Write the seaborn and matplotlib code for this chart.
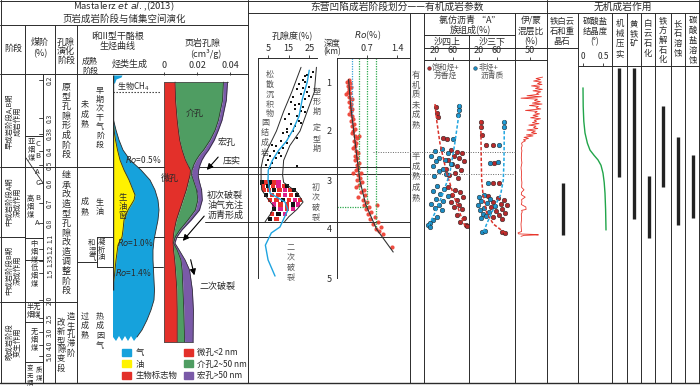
import numpy as np
import pandas as pd
import matplotlib
matplotlib.use("Agg")
import matplotlib.pyplot as plt
from matplotlib.patches import Patch
import seaborn as sns

sns.set_theme(style="white")
plt.rcParams['font.family'] = ['Noto Sans CJK SC', 'DejaVu Sans']
plt.rcParams['axes.unicode_minus'] = False

# ---------------- values ----------------
# left: hydrocarbon generation (schematic, rows of the evolution column)
gas_row = [118, 130, 140, 150, 160, 170, 180, 190, 200, 210, 220, 230, 240, 250, 260, 270, 280, 290, 300, 310, 320, 330, 337]
gas_w = [0, 3, 6, 10, 17, 28, 37, 42, 45, 46, 45, 43, 41, 40, 40, 40.5, 41, 41.5, 41, 38, 34, 29, 24]
gas_tear_row = [341, 336, 341, 336, 341, 336, 341, 337]
gas_tear_w = [21, 18, 15, 12, 9, 6, 3, 0]
oil_row = [120, 130, 140, 150, 160, 170, 180, 190, 195, 200, 210, 220, 230, 237, 245, 260, 275, 285]
oil_w = [0, 1, 2.5, 4.5, 7, 11, 16, 20, 22, 21, 15, 11, 10, 9, 5, 3, 1.5, 0]
bio_row = [75, 77, 79, 83]
bio_w = [9, 8, 3, 1.5]

# left: shale pore volume (cm3/g), cumulative
pore_row = [82, 100, 120, 130, 140, 150, 155, 160, 165, 170, 175, 180, 190, 200, 210, 220, 230, 237, 243, 250, 260, 270, 290, 310, 342]
pore_micro = [.0067, .0070, .0080, .0087, .0095, .0110, .0120, .0130, .0145, .0160, .0158, .0150, .0135, .0115, .0095, .0075,
              .0062, .0056, .0055, .0058, .0065, .0070, .0078, .0080, .0080]
pore_meso = [.0360, .0355, .0330, .0310, .0280, .0240, .0215, .0195, .0180, .0170, .0168, .0178, .0198, .0205, .0190, .0145,
             .0095, .0068, .0058, .0080, .0103, .0110, .0115, .0120, .0125]
pore_macro = [.0385, .0378, .0352, .0330, .0305, .0270, .0248, .0230, .0218, .0210, .0207, .0212, .0228, .0232, .0215, .0165,
              .0108, .0078, .0066, .0092, .0128, .0155, .0172, .0178, .0176]

# porosity (%) vs depth (km)
por_depth = [0.8, 0.85, 0.9, 0.95, 1.0, 1.05, 1.1, 1.15, 1.2, 1.25, 1.3, 1.35, 1.4, 1.45, 1.5, 1.55, 1.6, 1.65, 1.7, 1.75,
             1.8, 1.85, 1.9, 1.95, 2.0, 2.05, 2.1, 2.15, 2.2, 2.25, 2.3, 2.35, 2.4, 2.45, 2.5, 2.55, 2.6, 2.65, 2.7, 2.75, 2.72,
             0.88, 1.12, 1.28, 1.47, 1.62, 1.83, 2.02, 2.28, 2.52]
por_val = [27, 24, 26, 22, 23, 20, 25, 19, 24, 21, 17, 23, 16, 20, 22, 18, 21, 15, 19, 13,
           20, 16, 18, 14, 17, 12, 15, 19, 11, 14, 9, 12, 8, 10, 6, 9, 5, 7, 4, 6, 19,
           23, 22, 25, 18, 23, 21, 14, 7, 11]
por_trend_depth = [0.76, 1.0, 1.37, 1.7, 1.98, 2.2, 2.4, 2.6, 2.8, 3.0, 3.27, 3.45, 3.61, 3.96, 4.08, 4.33, 4.63, 4.96]
por_trend_val = [25, 24, 21.5, 20, 17, 14, 10, 7, 5, 4.9, 5.9, 13.2, 14.6, 10.7, 6.5, 3.6, 4.9, 8.3]
env_left_depth = [0.7, 1.2, 1.6, 2.0, 2.3, 2.55, 2.75, 3.0, 3.2, 3.4, 3.55, 3.7, 3.85]
env_left_val = [21, 16.5, 12.5, 9, 5.5, 2.5, 1.5, 1.5, 1.8, 5, 8, 6, 3.5]
env_right_depth = [0.7, 1.2, 1.6, 2.0, 2.3, 2.6, 2.9, 3.05, 3.25, 3.45, 3.6, 3.75, 3.85]
env_right_val = [28.5, 27.5, 24, 20.5, 15.5, 12.5, 12, 12.5, 19, 22, 19, 15, 13]
lobe_depth = [3.05, 3.05, 3.05, 3.05, 3.05, 3.12, 3.12, 3.12, 3.12, 3.12, 3.12, 3.2, 3.2, 3.2, 3.2, 3.2, 3.2, 3.2,
              3.3, 3.3, 3.3, 3.3, 3.3, 3.3, 3.4, 3.4, 3.4, 3.4, 3.4, 3.4, 3.5, 3.5, 3.5, 3.5, 3.5,
              3.6, 3.6, 3.6, 3.6, 3.7, 3.7, 3.7, 3.8, 3.8]
lobe_por = [2, 4, 6, 8, 10, 2.5, 5, 7.5, 10, 12.5, 14, 3, 5.5, 8, 10.5, 13, 15.5, 17.5,
            4, 7, 10, 13, 16, 19, 6, 9, 12, 15, 18, 20.5, 8, 11, 14, 17, 19.5,
            8, 11, 14, 17, 7, 10, 13, 6, 9]
lobe_kind = ['k', 'r', 'k', 'r', 'm', 'r', 'k', 'r', 'm', 'r', 'k', 'r', 'r', 'k', 'r', 'm', 'r', 'k',
             'k', 'r', 'r', 'm', 'r', 'k', 'r', 'r', 'k', 'r', 'm', 'r', 'm', 'r', 'r', 'k', 'm',
             'k', 'm', 'r', 'm', 'r', 'k', 'm', 'k', 'r']

# vitrinite reflectance Ro (%) vs depth (km)
ro_depth = [0.95, 1.0, 1.02, 1.08, 1.1, 1.15, 1.2, 1.22, 1.3, 1.35, 1.4, 1.45, 1.5, 1.55, 1.6, 1.65, 1.7, 1.75, 1.8, 1.85,
            1.9, 1.95, 2.0, 2.05, 2.1, 2.15, 2.2, 2.25, 2.3, 2.35, 2.4, 2.45, 2.5, 2.55, 2.6, 2.65, 2.7, 2.75, 2.8, 2.85,
            2.9, 2.95, 3.0, 3.05, 3.1, 3.15, 3.2, 3.25, 3.3, 3.35, 3.4, 3.45, 3.5, 3.5, 3.55, 3.6, 3.65, 3.7, 3.75, 3.8,
            3.85, 3.9, 3.95, 4.0, 4.05, 4.1, 4.37, 2.1, 1.25, 2.85]
ro_val = [0.27, 0.24, 0.30, 0.26, 0.33, 0.28, 0.25, 0.31, 0.29, 0.34, 0.27, 0.32, 0.30, 0.36, 0.33, 0.29, 0.35, 0.38, 0.33, 0.40,
          0.36, 0.42, 0.38, 0.35, 0.41, 0.47, 0.39, 0.44, 0.41, 0.37, 0.45, 0.50, 0.43, 0.47, 0.41, 0.52, 0.46, 0.50, 0.44, 0.55,
          0.49, 0.53, 0.47, 0.58, 0.52, 0.45, 0.62, 0.55, 0.66, 0.50, 0.60, 0.70, 0.64, 0.93, 0.75, 0.68, 0.80, 0.72, 0.88, 0.78,
          0.95, 0.85, 1.02, 0.90, 0.98, 1.07, 1.28, 0.52, 0.21, 0.38]
ro_trend_depth = [0.95, 1.5, 2.0, 2.5, 3.0, 3.5, 4.0, 4.47]
ro_trend_val = [0.27, 0.32, 0.39, 0.46, 0.53, 0.67, 0.92, 1.31]
ro_ref_val = [0.35, 0.51, 0.70, 0.91]
ro_ref_bottom = [1.85, 3.2, 3.55, 3.95]
ro_ref_color = ['#3aa0d8', '#2fa84f', '#2fa84f', '#2fa84f']

# chloroform bitumen "A" group composition (%)
s4_sat_depth = [1.51, 1.63, 1.72, 2.15, 2.17, 2.38, 2.42, 2.45, 2.5, 2.55, 2.6, 2.62, 2.68, 2.72, 2.78, 2.8, 2.85, 2.9, 2.95,
                3.15, 3.2, 3.25, 3.3, 3.35, 3.4, 3.45, 3.5, 3.55, 3.6, 3.72, 3.78, 3.85, 3.92, 3.94]
s4_sat_val = [22, 24, 26, 38, 47, 55, 68, 80, 62, 74, 48, 85, 58, 70, 44, 78, 64, 52, 72,
              50, 64, 75, 58, 82, 68, 55, 74, 62, 80, 70, 84, 76, 88, 92]
s4_non_depth = [1.49, 1.58, 1.68, 2.17, 2.36, 2.4, 2.45, 2.5, 2.55, 2.6, 2.62, 2.68, 2.72, 2.78, 2.82, 2.88, 2.92,
                3.12, 3.18, 3.22, 3.28, 3.32, 3.38, 3.42, 3.48, 3.52, 3.58, 3.62, 3.75, 3.82, 3.88, 3.92, 3.95]
s4_non_val = [74, 73, 72, 60, 35, 20, 48, 12, 30, 42, 22, 55, 16, 38, 28, 45, 18,
              25, 40, 15, 32, 48, 22, 38, 12, 30, 20, 35, 24, 15, 8, 4, 10]
s3_sat_depth = [1.82, 1.92, 2.08, 2.29, 2.29, 2.65, 3.07, 3.07, 3.32, 3.36, 3.4, 3.44, 3.48, 3.52, 3.56, 3.6, 3.64, 3.68,
                3.72, 3.76, 3.8, 4.06, 4.08]
s3_sat_val = [24, 25, 27, 35, 52, 54, 51, 64, 40, 62, 75, 52, 68, 82, 46, 72, 58, 78, 64, 50, 70, 70, 78]
s3_non_depth = [1.82, 1.92, 2.29, 2.65, 2.63, 3.07, 3.3, 3.34, 3.38, 3.42, 3.46, 3.5, 3.54, 3.58, 3.62, 3.66, 3.7, 3.74,
                3.78, 4.06, 4.04]
s3_non_val = [76, 75, 64, 45, 62, 40, 30, 20, 45, 25, 38, 18, 55, 32, 22, 42, 28, 36, 24, 27, 33]
s4_sat_fit_depth = [1.45, 1.8, 2.25, 2.86, 3.27, 3.67, 3.95]
s4_sat_fit_val = [20, 24, 31, 46, 60, 75, 87]
s4_non_fit_depth = [1.45, 1.8, 2.25, 2.86, 3.27, 3.67, 3.95]
s4_non_fit_val = [75, 71, 64, 53, 38, 20, 5]
s3_sat_fit_depth = [1.78, 2.2, 2.6, 3.0, 3.3, 3.67, 3.9, 4.08]
s3_sat_fit_val = [24, 24.5, 25, 26, 29, 37, 52, 78]
s3_non_fit_depth = [1.78, 2.2, 2.6, 3.0, 3.3, 3.67, 3.9, 4.08]
s3_non_fit_val = [76, 76, 75.5, 74, 68, 48, 37, 29]

# illite / smectite mixed layer ratio (%)
is_depth = [0.90, 0.93, 0.95, 0.98, 1.00, 1.03, 1.05, 1.08, 1.10, 1.13, 1.15, 1.18, 1.20, 1.23, 1.25, 1.28, 1.30, 1.33,
            1.35, 1.38, 1.40, 1.43, 1.45, 1.48, 1.50, 1.53, 1.55, 1.58, 1.60, 1.63, 1.65, 1.68, 1.70, 1.73, 1.75, 1.78,
            1.80, 1.83, 1.85, 1.88, 1.90, 1.93, 1.95, 1.98, 2.00, 2.03, 2.05, 2.08, 2.10, 2.13, 2.15, 2.18, 2.20, 2.23,
            2.25, 2.30, 2.35, 2.40, 2.45, 2.55, 2.65, 2.75, 2.85, 2.95, 3.05, 3.15, 3.20, 3.25, 3.30, 3.35, 3.40, 3.45,
            3.50, 3.55, 3.60, 3.62, 3.65, 3.70, 3.80, 3.90, 4.00, 4.05, 4.08, 4.10, 4.11, 4.12, 4.13, 4.15]
is_val = [92, 70, 85, 62, 88, 75, 90, 55, 82, 68, 91, 60, 86, 72, 80, 40, 88, 20, 75, 65, 84, 58, 90, 48, 78, 70, 86,
          35, 74, 66, 82, 60, 77, 52, 85, 64, 72, 58, 80, 46, 70, 62, 76, 40, 68, 55, 72, 38, 60, 30, 45, 28, 35, 25,
          22, 24, 21, 23, 22, 21, 23, 20, 22, 21, 23, 22, 30, 22, 21, 34, 22, 23, 21, 36, 37, 22, 24, 21, 22, 20, 21,
          22, 10, 12, 60, 78, 30, 20]

# carbonate cement crystallinity (deg)
carb_depth = [1.12, 1.5, 1.8, 2.04, 2.25, 2.39, 2.5, 2.59, 2.7, 2.86, 3.05, 3.27, 3.6, 4.02]
carb_val = [0.0, 0.005, 0.02, 0.05, 0.11, 0.175, 0.28, 0.375, 0.45, 0.5, 0.53, 0.55, 0.565, 0.575]

# inorganic diagenesis ranges (km)
proc_names = ['机械压实', '黄铁矿', '白云石化', '铁方解石化', '长石溶蚀', '碳酸盐溶蚀']
proc_top = [0.71, 0.71, 2.92, 1.49, 2.12, 2.49]
proc_bot = [2.94, 3.80, 4.18, 3.14, 3.92, 3.78]
fedol_top = [3.06]
fedol_bot = [4.12]

GAS, OIL = '#16a2dc', '#fff200'
RED, GREEN, PURPLE = '#e3302a', '#4f9d62', '#7a5aa8'
INK = '#2b2b2b'
GREY = '#555555'

# ---------------- figure ----------------
W, H = 700, 388
fig = plt.figure(figsize=(7, 3.88), dpi=100)
base = fig.add_axes([0, 0, 1, 1])
base.set_xlim(0, W)
base.set_ylim(H, 0)
base.axis('off')


def panel(x0, x1, y0, y1):
    a = fig.add_axes([x0 / W, 1 - y1 / H, (x1 - x0) / W, (y1 - y0) / H])
    a.patch.set_alpha(0)
    for s in a.spines.values():
        s.set_visible(False)
    a.set_xticks([])
    a.set_yticks([])
    a.set_xlabel('')
    a.set_ylabel('')
    return a


def depth_lim(y0, y1):
    # depth scale of the middle/right part: 1 km = 49 px, 0 km at y=33
    return ((y1 - 33) / 49, (y0 - 33) / 49)


def hl(y, x0, x1, **kw):
    base.plot([x0, x1], [y, y], color=kw.pop('color', INK), lw=kw.pop('lw', 0.7), **kw)


def vl(x, y0, y1, **kw):
    base.plot([x, x], [y0, y1], color=kw.pop('color', INK), lw=kw.pop('lw', 0.7), **kw)


def vtext(x, y, s, size=6, color=INK, ls=1.12, **kw):
    base.text(x, y, "\n".join(s), ha='center', va='top', fontsize=size, linespacing=ls, color=color, **kw)


def txt(x, y, s, size=6, color=INK, **kw):
    base.text(x, y, s, ha=kw.pop('ha', 'center'), va=kw.pop('va', 'center'), fontsize=size, color=color, **kw)


# ---- table frame ----
hl(0.6, 0, 700)
hl(383, 0, 700, lw=1.0)
vl(0.6, 0, 383)
vl(699.4, 0, 383)
hl(25, 0, 248)
hl(74, 0, 248)
hl(13, 248, 700)
for x in [25, 55, 77]:
    vl(x, 25, 383)
vl(248, 0, 383)
vl(547, 0, 383)
for x in [410, 424, 515, 578, 612, 627, 641, 655, 671, 685]:
    vl(x, 13, 383)
vl(469, 35, 383)
hl(35, 424, 515)
hl(48, 424, 578)
hl(60, 424, 547)
hl(66, 578, 700)

# left-panel row boundaries
hl(167, 0, 410)
hl(237, 0, 25)
hl(302, 0, 77)
hl(174, 192, 410)
hl(222, 205, 410)
hl(237, 97, 410)
hl(267, 97, 163)
hl(262, 77, 97)
vl(97, 237, 267)
hl(92, 113, 160, ls=(0, (1.2, 1.5)), lw=0.8)
# coal rank column
vl(43, 74, 383)
hl(136, 25, 43)
base.plot([26, 43], [158, 183], color=INK, lw=0.6)
for y in [238, 260, 322, 362]:
    hl(y, 25, 43)
coal_tick_lab = ['0.2', '0.3', '0.38', '0.4', '0.5', '0.6', '0.7', '0.8', '1.1', '1.2', '1.35', '1.5', '2.0', '2.5', '3.0', '4.0', '5.0']
coal_tick_row = [80, 118, 134, 151, 165, 183, 203, 223, 238, 249, 261, 273, 300, 318, 332, 345, 356]
for lab, y in zip(coal_tick_lab, coal_tick_row):
    base.plot([39, 43], [y, y], color=INK, lw=0.6)
    txt(50, y, lab, size=4.8, rotation=90)

# maturity dotted lines (middle)
hl(152, 373, 515, ls=(0, (1, 1.5)), lw=0.7, color='#666666')
hl(174, 410, 515, ls=(0, (1, 1.5)), lw=0.7, color='#666666')

# ---- titles and headers ----
txt(124, 6.5, r'Mastalerz $\it{et\ al.}$,(2013)', size=6.8)
txt(124, 19, '页岩成岩阶段与储集空间演化', size=6.8)
txt(397, 6.5, '东营凹陷成岩阶段划分——有机成岩参数', size=7)
txt(623, 6.5, '无机成岩作用', size=7)
txt(13, 48, '阶段', size=6.5)
txt(40, 42, '煤阶', size=6.5)
txt(40, 54, '(%)', size=6.5)
vtext(66, 38, ['孔隙', '演化', '阶段'], size=6.5, ls=1.0)
txt(118, 36, 'I和II型干酪根', size=6.5)
txt(118, 46, '生烃曲线', size=6.5)
vtext(90, 57, ['成熟', '阶段'], size=5.8, ls=1.0)
txt(130, 64, '烃类生成', size=6.5)
txt(203, 43, '页岩孔隙', size=6.5)
txt(206, 54, '(cm³/g)', size=6.5)
txt(292, 35, '孔隙度(%)', size=6.5)
txt(368, 35, r'$Ro$(%)', size=6.5)
txt(332, 43, '深度', size=6)
txt(332, 52, '(km)', size=6)
txt(470, 20, '氯仿沥青 “A”', size=6.5)
txt(470, 29, '族组成(%)', size=6.5)
txt(447, 42, '沙四上', size=6.5)
txt(492, 42, '沙三下', size=6.5)
txt(531, 20, '伊/蒙', size=6.3)
txt(531, 31, '混层比', size=6.3)
txt(531, 42, '(%)', size=6.3)
vtext(562, 17, ['铁白云', '石和重', '晶石'], size=6)
vtext(595, 17, ['碳酸盐', '结晶度', '(°)'], size=6)
for name, x in zip(proc_names, [619.5, 634, 648, 663, 678, 692.5]):
    vtext(x, 16 if len(name) == 5 else 19, name, size=6)

# stage column
txt(9, 121, '早成岩阶段A,B期', size=5.3, rotation=90)
txt(18, 121, '成岩作用', size=5.3, rotation=90)
txt(9, 202, '中成岩阶段A期', size=5.3, rotation=90)
txt(18, 202, '深成作用', size=5.3, rotation=90)
txt(9, 270, '中成岩阶段B期', size=5.3, rotation=90)
txt(18, 270, '深成作用', size=5.3, rotation=90)
txt(9, 342, '晚成岩阶段', size=5.3, rotation=90)
txt(18, 342, '变生作用', size=5.3, rotation=90)
# coal names
vtext(31, 138, '亚烟煤', size=5.2, ls=1.0)
for s, y in [('C', 144), ('B', 156), ('A', 172), ('C', 183), ('B', 198), ('A', 223)]:
    txt(37.5, y, s, size=5.5)
vtext(30, 195, '高烟煤', size=5.2, ls=1.0)
vtext(34, 240, '中烟煤', size=5.2, ls=1.0)
vtext(34, 264, '低烟煤', size=5.2, ls=1.0)
vtext(34, 303, ['半无', '烟煤'], size=5.2, ls=1.0)
vtext(34, 328, '无烟煤', size=5.2, ls=1.0)
vtext(30, 364, '变无烟', size=4.6, ls=0.95)
vtext(39, 366, '质煤', size=4.6, ls=0.95)
# pore evolution stages
vtext(66, 83, '原型孔隙形成阶段', size=6.5, ls=1.08)
vtext(66, 171, '继承改造型孔隙改造调整阶段', size=6.5, ls=1.08)
vtext(61, 318, '改新型隙变段', size=6, ls=1.02)
vtext(71, 312, '造生孔滞阶', size=6, ls=1.02)
# maturity stages
vtext(85, 100, '未成熟', size=5.8)
vtext(100, 86, '早期次干气阶段', size=5.8, ls=1.0)
vtext(85, 197, '成熟', size=5.8)
vtext(100, 197, '生油', size=5.8)
vtext(92, 239, '和湿气', size=5.3, ls=0.95)
vtext(101, 238, '凝析油', size=5.3, ls=0.95)
vtext(85, 311, '过成熟', size=5.8)
vtext(100, 311, '热成因气', size=5.8)

# ---- left: hydrocarbon generation ----
hc = panel(113, 163, 75, 383)
hc.set_xlim(0, 50)
hc.set_ylim(383, 75)
hc.fill([0] + gas_w + gas_tear_w, [gas_row[0]] + gas_row + gas_tear_row, color=GAS, lw=0)
hc.plot(gas_w, gas_row, color=INK, lw=0.6)
hc.fill_betweenx(oil_row, 0, oil_w, color=OIL, lw=0)
hc.plot(oil_w, oil_row, color=INK, lw=0.6)
hc.fill_betweenx(bio_row, 0, bio_w, color=GAS, lw=0)
hc.vlines(0, 75, 290, color=INK, lw=1.0)
hc.text(20, 86, '生物CH$_4$', fontsize=5.8, ha='center', va='center', color=INK)
hc.text(12, 160, r'$Ro$=0.5%', fontsize=6, ha='left', va='center', color=INK)
hc.text(4, 243, r'$Ro$=1.0%', fontsize=6, ha='left', va='center', color=INK)
hc.text(2, 273, r'$Ro$=1.4%', fontsize=6, ha='left', va='center', color=INK)
hc.text(10, 192, '生\n油\n窗', fontsize=6, ha='center', va='top', linespacing=1.1, color=INK)

# ---- left: shale pore volume ----
pp = panel(160, 248, 75, 383)
pp.set_xlim((160 - 164) / 1650, (248 - 164) / 1650)
pp.set_ylim(383, 75)
pp.fill_betweenx(pore_row, 0, pore_micro, color=RED, lw=0)
pp.fill_betweenx(pore_row, pore_micro, pore_meso, color=GREEN, lw=0)
pp.fill_betweenx(pore_row, pore_meso, pore_macro, color=PURPLE, lw=0)
for edge in [pore_micro, pore_meso, pore_macro]:
    pp.plot(edge, pore_row, color=INK, lw=0.5)
pp.plot([0, pore_macro[0]], [pore_row[0], pore_row[0]], color=INK, lw=0.5)
pp.plot([0, 0], [pore_row[0], pore_row[-1]], color=INK, lw=0.5)
pp.plot([0, pore_macro[-1]], [pore_row[-1], pore_row[-1]], color=INK, lw=0.5)
pp.xaxis.tick_top()
pp.set_xticks([0, 0.02, 0.04])
pp.set_xticklabels(['0', '0.02', '0.04'])
pp.tick_params(axis='x', length=2.5, width=0.6, labelsize=6.5, pad=1, direction='out', colors=INK)
pp.text(0.0185, 113, '介孔', fontsize=6.5, ha='center', va='center', color=INK)
pp.text(0.0038, 178, '微孔', fontsize=6.5, ha='center', va='center', color=INK)
pp.text(0.0380, 142, '宏孔', fontsize=6.5, ha='center', va='center', color=INK)

arrow = dict(arrowstyle='-|>', color='black', lw=0.8, mutation_scale=9)
base.annotate('', xy=(205, 172), xytext=(220, 155), arrowprops=arrow)
base.annotate('', xy=(201, 199), xytext=(197, 180), arrowprops=arrow)
base.annotate('', xy=(181, 243), xytext=(206, 214), arrowprops=arrow)
base.annotate('', xy=(195, 278), xytext=(190, 257), arrowprops=arrow)
txt(232, 162, '压实', size=6.5)
txt(225, 195, '初次破裂', size=6.5)
txt(226, 205, '油气充注', size=6.5)
txt(226, 215, '沥青形成', size=6.5)
txt(217, 286, '二次破裂', size=6.5)

fig.legend(handles=[Patch(color=GAS, label='气'), Patch(color=OIL, label='油'), Patch(color=RED, label='生物标志物'),
                    Patch(color=RED, label='微孔<2 nm'), Patch(color=GREEN, label='介孔2~50 nm'),
                    Patch(color=PURPLE, label='宏孔>50 nm')],
           ncol=2, loc='upper left', bbox_to_anchor=(122 / W, 1 - 348 / H), frameon=False, fontsize=6,
           handlelength=1.1, handleheight=0.9, handletextpad=0.5, labelspacing=0.3, columnspacing=0.8,
           borderpad=0, borderaxespad=0)

# ---- middle: porosity ----
po = panel(258, 320, 58, 383)
po.set_xlim(0, 62 / 2.05)
po.set_ylim(*depth_lim(58, 383))
po.spines['left'].set_visible(True)
po.spines['left'].set_bounds(depth_lim(58, 383)[1], 5)
po.spines['top'].set_visible(True)
po.spines['top'].set_bounds(0, 29)
for s in ['left', 'top']:
    po.spines[s].set_color(INK)
    po.spines[s].set_linewidth(0.7)
po.xaxis.tick_top()
po.set_xticks([5, 15, 25])
po.set_yticks([1, 1.5, 2, 2.5, 3, 3.5, 4, 4.5, 5])
po.set_yticklabels([])
po.tick_params(axis='x', length=2.5, width=0.6, labelsize=6.5, pad=1, colors=INK)
po.tick_params(axis='y', length=2, width=0.6, direction='in', colors=INK)
sns.lineplot(x=env_left_val, y=env_left_depth, sort=False, estimator=None, color=INK, lw=0.7, ax=po)
sns.lineplot(x=env_right_val, y=env_right_depth, sort=False, estimator=None, color=INK, lw=0.7, ax=po)
lobe = pd.DataFrame({'d': lobe_depth, 'p': lobe_por, 'k': lobe_kind})
sns.scatterplot(data=lobe, x='p', y='d', hue='k', palette={'k': '#111111', 'r': '#e8312a', 'm': '#e0208a'},
                marker='s', s=9, linewidth=0, legend=False, ax=po)
sns.scatterplot(x=por_val, y=por_depth, color='#111111', marker='s', s=3, linewidth=0, ax=po)
sns.lineplot(x=por_trend_val, y=por_trend_depth, sort=False, estimator=None, color='#1fa4e0', lw=1.0, ax=po)
po.set_xlabel('')
po.set_ylabel('')
vtext(270, 70, '松散沉积物', size=5.8, color=GREY)
vtext(265, 118, '固结成岩', size=5.8, color=GREY)
vtext(317, 87, '塑形期', size=5.8, color=GREY)
vtext(317, 124, '定型期', size=5.8, color=GREY)
vtext(316, 183, '初次破裂', size=5.8, color=GREY)
vtext(291, 243, '二次破裂', size=5.8, color=GREY)

# ---- middle: Ro ----
ro = panel(337, 410, 58, 383)
ro.set_xlim(0, 73 / 42.9)
ro.set_ylim(*depth_lim(58, 383))
ro.spines['left'].set_visible(True)
ro.spines['left'].set_bounds(depth_lim(58, 383)[1], 5)
ro.spines['top'].set_visible(True)
for s in ['left', 'top']:
    ro.spines[s].set_color(INK)
    ro.spines[s].set_linewidth(0.7)
ro.xaxis.tick_top()
ro.set_xticks([0.7, 1.4])
ro.set_xticklabels(['0.7', '1.4'])
ro.set_yticks([1, 2, 3, 4, 5])
ro.set_yticklabels(['1', '2', '3', '4', '5'])
ro.tick_params(axis='x', length=2.5, width=0.6, labelsize=6.5, pad=1, colors=INK)
ro.tick_params(axis='y', length=3, width=0.6, labelsize=6.5, pad=1, colors=INK)
top_d = depth_lim(58, 383)[1]
for xv, bd, c in zip(ro_ref_val, ro_ref_bottom, ro_ref_color):
    ro.vlines(xv, top_d, bd, color=c, lw=0.9, linestyles=(0, (1, 1)))
ro.hlines(ro_ref_bottom[2], 0, ro_ref_val[2], color='#2fa84f', lw=0.9, linestyles=(0, (1, 1)))
sns.scatterplot(x=ro_val, y=ro_depth, color='#ee3a2c', s=9, linewidth=0, alpha=0.9, ax=ro)
sns.lineplot(x=ro_trend_val, y=ro_trend_depth, sort=False, estimator=None, color='#333333', lw=0.8, ax=ro)
ro.set_xlabel('')
ro.set_ylabel('')
vtext(416, 71, '有机质未成熟', size=6, color=GREY)
vtext(416, 152, '半成熟', size=6, color=GREY)
vtext(416, 183, '成熟', size=6, color=GREY)

# ---- chloroform bitumen "A" ----
sat_c, non_c = '#b52a2c', '#1b8cc4'
for x0, x1, zero, sat_d, sat_v, non_d, non_v, sf_d, sf_v, nf_d, nf_v in [
        (425, 469, 426, s4_sat_depth, s4_sat_val, s4_non_depth, s4_non_val,
         s4_sat_fit_depth, s4_sat_fit_val, s4_non_fit_depth, s4_non_fit_val),
        (469, 515, 470, s3_sat_depth, s3_sat_val, s3_non_depth, s3_non_val,
         s3_sat_fit_depth, s3_sat_fit_val, s3_non_fit_depth, s3_non_fit_val)]:
    bx = panel(x0, x1, 60, 383)
    bx.set_xlim((x0 - zero) / 0.45, (x1 - zero) / 0.45)
    bx.set_ylim(*depth_lim(60, 383))
    bx.xaxis.tick_top()
    bx.set_xticks([20, 60])
    bx.tick_params(axis='x', length=2.5, width=0.6, labelsize=6.5, pad=1, colors=INK)
    sns.lineplot(x=sf_v, y=sf_d, sort=False, estimator=None, color='#d8322a', lw=1.1, linestyle=(0, (2.2, 1.3)), ax=bx)
    sns.lineplot(x=nf_v, y=nf_d, sort=False, estimator=None, color='#22a6e0', lw=1.1, linestyle=(0, (2.2, 1.3)), ax=bx)
    sns.scatterplot(x=sat_v, y=sat_d, color=sat_c, s=11, edgecolor='#222222', linewidth=0.35, ax=bx)
    sns.scatterplot(x=non_v, y=non_d, color=non_c, s=11, edgecolor='#222222', linewidth=0.35, ax=bx)
    bx.set_xlabel('')
    bx.set_ylabel('')
base.scatter([428.5], [68], s=7, color=sat_c, edgecolor='#222222', linewidths=0.3)
txt(432, 68, '饱和烃+', size=5.6, ha='left', color=GREY)
txt(434, 76, '芳香烃', size=5.6, ha='left', color=GREY)
base.scatter([475], [68], s=7, color=non_c, edgecolor='#222222', linewidths=0.3)
txt(479, 68, '非烃+', size=5.6, ha='left', color=GREY)
txt(481, 76, '沥青质', size=5.6, ha='left', color=GREY)

# ---- illite/smectite ----
ix = panel(515, 547, 60, 383)
ix.set_xlim(0, 32 / 0.3)
ix.set_ylim(*depth_lim(60, 383))
ix.xaxis.tick_top()
ix.set_xticks([50])
ix.tick_params(axis='x', length=2.5, width=0.6, labelsize=6.5, pad=1, colors=INK)
sns.lineplot(x=is_val, y=is_depth, sort=False, estimator=None, color='#e8362c', lw=0.6, ax=ix)
ix.set_xlabel('')
ix.set_ylabel('')

# ---- carbonate crystallinity ----
cx = panel(578, 612, 66, 383)
cx.set_xlim(-0.125, 0.725)
cx.set_ylim(*depth_lim(66, 383))
cx.xaxis.tick_top()
cx.set_xticks([0, 0.5])
cx.set_xticklabels(['0', '0.5'])
cx.tick_params(axis='x', length=2.5, width=0.6, labelsize=6, pad=1, colors=INK)
sns.lineplot(x=carb_val, y=carb_depth, sort=False, estimator=None, color='#21a54a', lw=1.0, ax=cx)
cx.set_xlabel('')
cx.set_ylabel('')

# ---- process ranges ----
px = panel(612, 700, 66, 383)
px.set_xlim(-0.5, 5.5)
px.set_ylim(*depth_lim(66, 383))
px.vlines(range(len(proc_names)), proc_top, proc_bot, color='#222222', lw=2.4)
fx = panel(547, 578, 48, 383)
fx.set_xlim(-0.5, 0.5)
fx.set_ylim(*depth_lim(48, 383))
fx.vlines([0], fedol_top, fedol_bot, color='#222222', lw=2.4)

fig.savefig('out.png', dpi=100)
